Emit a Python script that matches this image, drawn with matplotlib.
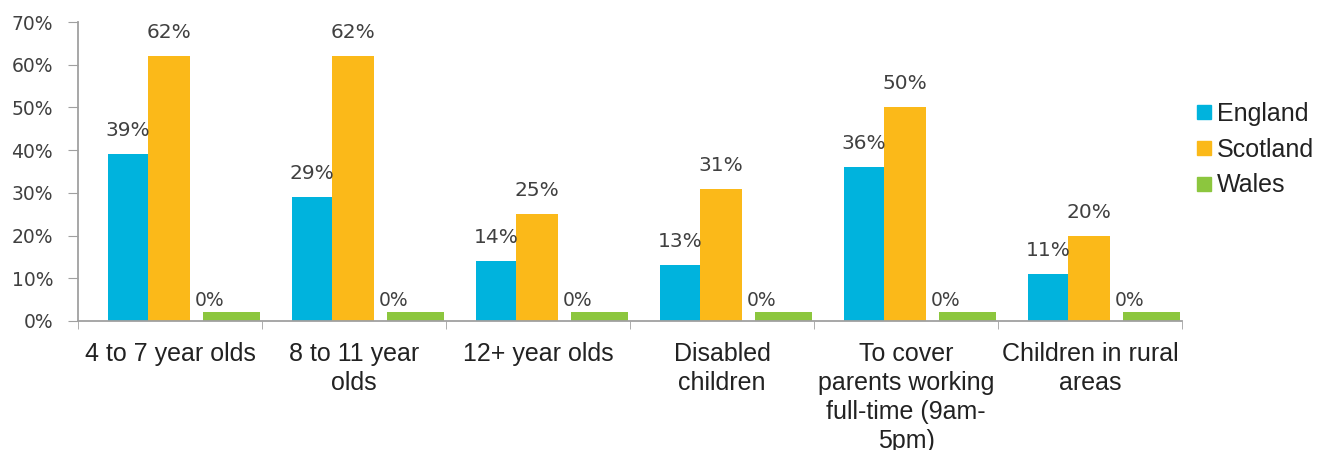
import matplotlib
matplotlib.use("Agg")
import matplotlib.pyplot as plt
from matplotlib.lines import Line2D
import numpy as np

categories = ["4 to 7 year olds", "8 to 11 year\nolds", "12+ year olds",
              "Disabled\nchildren", "To cover\nparents working\nfull-time (9am-\n5pm)",
              "Children in rural\nareas"]
series_names = ["England", "Scotland", "Wales"]
england = [39, 29, 14, 13, 36, 11]
scotland = [62, 62, 25, 31, 50, 20]
wales = [0, 0, 0, 0, 0, 0]
wales_drawn = [2, 2, 2, 2, 2, 2]   # drawn height of the Wales marker bars
yticks = [0, 10, 20, 30, 40, 50, 60, 70]

colors = ["#00B3DD", "#FBB919", "#8CC63E"]
text_col = "#404040"

fig = plt.figure(figsize=(13.32, 4.5), dpi=100)
ax = fig.add_axes([78/1332, 1 - 321/450, (1182 - 78)/1332, (321 - 22)/450])

x = np.arange(len(categories))
w_e, w_s, w_w = 0.217, 0.228, 0.31
off_e, off_s, off_w = -0.228, -0.005, 0.335

ax.bar(x + off_e, england, width=w_e, color=colors[0])
ax.bar(x + off_s, scotland, width=w_s, color=colors[1])
ax.bar(x + off_w, wales_drawn, width=w_w, color=colors[2])

for xi, v in zip(x, england):
    ax.annotate(f"{v}%", (xi + off_e, v), xytext=(0, 13), textcoords="offset points",
                ha="center", va="baseline", fontsize=14.5, color=text_col)
for xi, v in zip(x, scotland):
    ax.annotate(f"{v}%", (xi + off_s, v), xytext=(0, 13), textcoords="offset points",
                ha="center", va="baseline", fontsize=14.5, color=text_col)
for xi, v, h in zip(x, wales, wales_drawn):
    ax.annotate(f"{v}%", (xi + off_w - w_w/2, h), xytext=(-6, 5), textcoords="offset points",
                ha="left", va="baseline", fontsize=13.5, color=text_col)

ax.set_xlim(-0.5, len(categories) - 0.5)
ax.set_ylim(0, 70)
ax.set_yticks(yticks)
ax.set_yticklabels([f"{t}%" for t in yticks], fontsize=13.5, color=text_col)

ax.set_xticks(x)
ax.set_xticklabels(categories, fontsize=18, color="#222222", family="Liberation Sans",
                   linespacing=1.27, va="top")
ax.tick_params(axis="x", which="major", length=0, pad=15)
ax.set_xticks(np.arange(len(categories) + 1) - 0.5, minor=True)
ax.tick_params(axis="x", which="minor", length=6, color="#A0A0A0", direction="out")
ax.tick_params(axis="y", length=7, color="#A0A0A0", pad=11, direction="out")

for s in ["top", "right"]:
    ax.spines[s].set_visible(False)
for s in ["left", "bottom"]:
    ax.spines[s].set_color("#A0A0A0")
    ax.spines[s].set_linewidth(1.3)

handles = [Line2D([], [], marker="s", linestyle="none", markersize=10, color=c) for c in colors]
fig.legend(handles, series_names, loc="upper left", bbox_to_anchor=(1196/1332, 1 - 102/450),
           frameon=False, handlelength=0.6, handletextpad=0.25,
           labelspacing=0.47, borderpad=0, borderaxespad=0,
           prop={"family": "Liberation Sans", "size": 18}, labelcolor="#222222")

fig.savefig("out.png", dpi=100)
